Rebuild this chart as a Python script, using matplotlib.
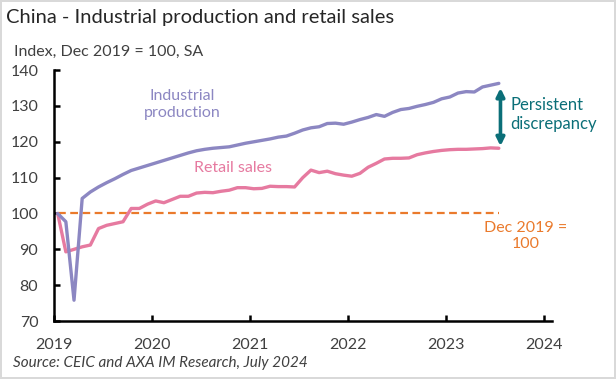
import matplotlib.pyplot as plt
import numpy as np

# monthly index, Dec 2019 = 100 (month 0)
industrial_production = [
    100.0, 97.7, 75.8, 104.2, 106.0, 107.4, 108.6, 109.7, 110.9, 112.0,
    112.7, 113.4, 114.1, 114.8, 115.5, 116.2, 116.9, 117.5, 117.9, 118.2,
    118.4, 118.6, 119.1, 119.6, 120.0, 120.4, 120.8, 121.3, 121.6, 122.4,
    123.3, 123.9, 124.2, 125.1, 125.2, 124.9, 125.5, 126.2, 126.8, 127.6,
    127.1, 128.2, 129.0, 129.3, 129.9, 130.4, 131.0, 132.0, 132.5, 133.6,
    134.0, 133.9, 135.3, 135.8, 136.3,
]
retail_sales = [
    100.0, 89.3, 90.0, 90.7, 91.2, 95.8, 96.7, 97.2, 97.7, 101.4,
    101.4, 102.6, 103.5, 103.0, 103.9, 104.8, 104.8, 105.7, 105.9, 105.8,
    106.2, 106.5, 107.2, 107.2, 106.9, 107.0, 107.6, 107.5, 107.5, 107.4,
    110.0, 112.1, 111.4, 111.8, 111.1, 110.7, 110.4, 111.2, 112.9, 114.0,
    115.2, 115.4, 115.4, 115.5, 116.4, 116.9, 117.3, 117.6, 117.8, 117.9,
    117.9, 118.0, 118.1, 118.3, 118.2,
]
baseline = 100
year_labels = ["2019", "2020", "2021", "2022", "2023", "2024"]

months = np.arange(len(industrial_production))

PURPLE = "#8c87c2"
PINK = "#e67aa0"
ORANGE = "#ea7a2c"
TEAL = "#0b6f78"
GREY = "#404040"

plt.rcParams["font.family"] = ["Lato", "DejaVu Sans"]

fig = plt.figure(figsize=(6.16, 3.79), dpi=100)
fig.patch.set_edgecolor("#d9d9d9")
fig.patch.set_linewidth(1.5)
ax = fig.add_axes([0.087, 0.153, 0.809, 0.662])

ax.plot(months, [baseline] * len(months), color=ORANGE, lw=1.6,
        linestyle=(0, (3.5, 2)))
ax.plot(months, retail_sales, color=PINK, lw=2.4, solid_capstyle="round")
ax.plot(months, industrial_production, color=PURPLE, lw=2.4,
        solid_capstyle="round")

ax.set_xlim(-0.5, 60.5)
ax.set_ylim(70, 140)
ax.set_yticks(range(70, 141, 10))
ax.set_xticks([-0.5 + 12 * i for i in range(len(year_labels))])
ax.set_xticklabels(year_labels)

for side in ["top", "right"]:
    ax.spines[side].set_visible(False)
for side in ["left", "bottom"]:
    ax.spines[side].set_linewidth(1.8)
ax.tick_params(axis="both", direction="in", length=4, width=1.8,
               labelsize=11.5, labelcolor=GREY)
ax.tick_params(axis="y", pad=11)
ax.tick_params(axis="x", pad=12)

ax.text(15.3, 130.4, "Industrial\nproduction", color=PURPLE, fontsize=11.5,
        ha="center", va="center", linespacing=1.2)
ax.text(21.4, 112.6, "Retail sales", color=PINK, fontsize=11.5,
        ha="center", va="center")
ax.text(57.3, 93.7, "Dec 2019 =\n100", color=ORANGE, fontsize=11.5,
        ha="center", va="center", linespacing=1.2)
ax.text(55.4, 127.7, "Persistent\ndiscrepancy", color=TEAL, fontsize=12,
        ha="left", va="center", linespacing=1.2)
ax.annotate("", xy=(54.2, industrial_production[-1] - 1.3),
            xytext=(54.2, retail_sales[-1] + 0.6),
            arrowprops=dict(arrowstyle="<|-|>", color=TEAL, lw=2.6,
                            mutation_scale=12, shrinkA=0, shrinkB=0),
            annotation_clip=False)

fig.text(0.01, 0.955, "China - Industrial production and retail sales",
         fontsize=14.5, color="#262626", va="center")
fig.text(0.023, 0.862, "Index, Dec 2019 = 100, SA", fontsize=11.5,
         color=GREY, va="center")
fig.text(0.021, 0.042, "Source: CEIC and AXA IM Research, July 2024",
         fontsize=11, color=GREY, style="italic", va="center")

fig.savefig("out.png", dpi=100, edgecolor=fig.get_edgecolor())
